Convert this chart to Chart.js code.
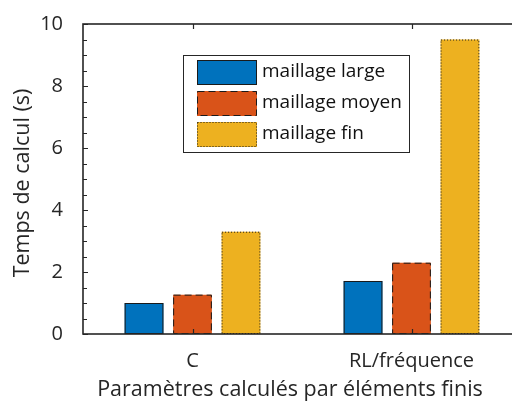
<!DOCTYPE html>
<html>
<head>
<meta charset="utf-8">
<script src="https://cdn.jsdelivr.net/npm/chart.js@4.4.1/dist/chart.umd.min.js"></script>
<style>
  html, body { margin: 0; padding: 0; background: #fff; overflow: hidden; }
  #wrap { width: 560px; height: 405px; }
</style>
</head>
<body>
<div id="wrap"><canvas id="chart" width="560" height="405"></canvas></div>
<script>
const categories = ['C', 'RL/fréquence'];
const seriesNames = ['maillage large', 'maillage moyen', 'maillage fin'];
const largeValues = [1.0, 1.71];
const moyenValues = [1.27, 2.3];
const finValues = [3.3, 9.5];
const yTickStep = 2;
const yMinorStep = 0.5;
const xTitle = 'Paramètres calculés par éléments finis';
const yTitle = 'Temps de calcul (s)';

const FONT = '"Open Sans"';
const INK = '#262626';

// bars + inward ticks + full box, matlab style
const framePlugin = {
  id: 'frame',
  afterDatasetsDraw(chart) {
    const { ctx, chartArea: a, scales: { x, y } } = chart;
    ctx.save();
    chart.data.datasets.forEach((ds, i) => {
      chart.getDatasetMeta(i).data.forEach(bar => {
        const p = bar.getProps(['x', 'y', 'base', 'width'], true);
        ctx.setLineDash(ds.outlineDash);
        ctx.lineWidth = 1;
        ctx.strokeStyle = '#1a1a1a';
        ctx.strokeRect(p.x - p.width / 2 + 0.5, p.y + 0.5, p.width - 1, p.base - p.y - 1);
      });
    });
    ctx.setLineDash([]);
    ctx.strokeStyle = INK;
    ctx.lineWidth = 1.2;
    ctx.beginPath();
    for (let v = y.min; v <= y.max + 1e-9; v += yMinorStep) {
      const py = Math.round(y.getPixelForValue(v)) + 0.5;
      const len = Math.abs(v % yTickStep) < 1e-9 ? 5 : 4;
      ctx.moveTo(a.left, py); ctx.lineTo(a.left + len, py);
      ctx.moveTo(a.right, py); ctx.lineTo(a.right - len, py);
    }
    categories.forEach((c, i) => {
      const px = Math.round(x.getPixelForValue(i)) + 0.5;
      ctx.moveTo(px, a.bottom); ctx.lineTo(px, a.bottom - 5);
      ctx.moveTo(px, a.top); ctx.lineTo(px, a.top + 5);
    });
    ctx.stroke();
    ctx.lineWidth = 1.6;
    ctx.strokeRect(a.left, a.top, a.right - a.left, a.bottom - a.top);
    ctx.restore();
  },
  afterDraw(chart) {
    const { ctx, chartArea: a } = chart;
    ctx.save();

    // axis titles (placed by hand, the plot box runs off the right edge)
    ctx.fillStyle = INK;
    ctx.font = '21.5px ' + FONT;
    ctx.textAlign = 'center';
    ctx.textBaseline = 'middle';
    ctx.fillText(xTitle, a.left + 207, a.bottom + 56);
    ctx.translate(23, (a.top + a.bottom) / 2 + 4);
    ctx.rotate(-Math.PI / 2);
    ctx.fillText(yTitle, 0, 0);
    ctx.setTransform(1, 0, 0, 1, 0, 0);

    // legend
    const bx = a.left + 100, by = a.top + 31, bw = 226, bh = 97;
    ctx.fillStyle = '#fff';
    ctx.fillRect(bx, by, bw, bh);
    ctx.strokeStyle = INK;
    ctx.lineWidth = 1;
    ctx.strokeRect(bx + 0.5, by + 0.5, bw, bh);
    ctx.font = '19px ' + FONT;
    ctx.textAlign = 'left';
    chart.data.datasets.forEach((ds, i) => {
      const sy = by + 5 + i * 31;
      ctx.fillStyle = ds.backgroundColor;
      ctx.fillRect(bx + 14, sy, 60, 25);
      ctx.setLineDash(ds.outlineDash);
      ctx.strokeStyle = '#1a1a1a';
      ctx.strokeRect(bx + 14.5, sy + 0.5, 59, 24);
      ctx.setLineDash([]);
      ctx.fillStyle = '#111';
      ctx.fillText(ds.label, bx + 79, sy + 12);
    });
    ctx.restore();
  }
};

function build() {
  new Chart(document.getElementById('chart'), {
    type: 'bar',
    data: {
      labels: categories,
      datasets: [
        { label: seriesNames[0], data: largeValues, backgroundColor: '#0072BD', outlineDash: [] },
        { label: seriesNames[1], data: moyenValues, backgroundColor: '#D95319', outlineDash: [7, 4] },
        { label: seriesNames[2], data: finValues, backgroundColor: '#EDB120', outlineDash: [1, 2] }
      ]
    },
    options: {
      responsive: false,
      animation: false,
      layout: { padding: { top: 20, right: 39, left: 0, bottom: 0 } },
      datasets: { bar: { categoryPercentage: 0.664, barPercentage: 0.8, borderWidth: 0 } },
      plugins: { legend: { display: false }, tooltip: { enabled: false } },
      scales: {
        x: {
          grid: { display: false },
          border: { display: false },
          ticks: { color: INK, font: { family: FONT, size: 20 }, padding: 7 },
          afterFit(s) { s.height = 71; }
        },
        y: {
          min: 0, max: 10,
          grid: { display: false },
          border: { display: false },
          ticks: { stepSize: yTickStep, color: INK, font: { family: FONT, size: 20 }, padding: 12 },
          afterFit(s) { s.width = 83; }
        }
      }
    },
    plugins: [framePlugin]
  });
}

document.fonts.load('20px ' + FONT).then(build, build);
</script>
</body>
</html>
